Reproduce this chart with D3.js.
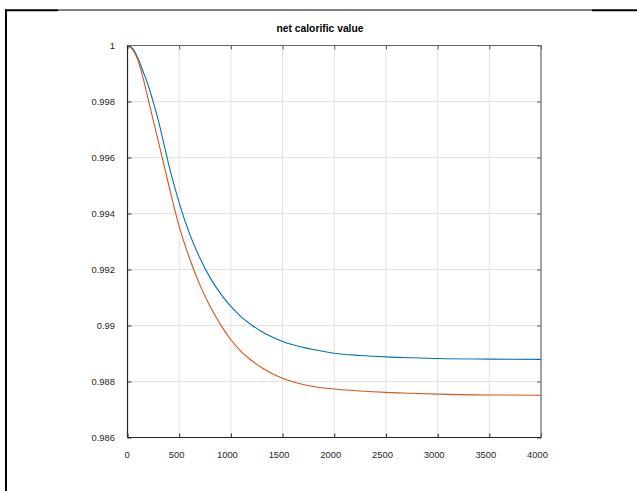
<!DOCTYPE html>
<html>
<head>
<meta charset="utf-8">
<script src="https://cdn.jsdelivr.net/npm/d3@7"></script>
<style>
  html, body { margin: 0; padding: 0; background: #fff; }
  svg { display: block; font-family: "Liberation Sans", Arial, sans-serif; }
</style>
</head>
<body>
<svg id="chart" width="637" height="491"></svg>
<script>
// values
const xValues = [0, 50, 100, 150, 200, 250, 300, 350, 400, 450, 500, 600, 700, 800, 900, 1000,
  1100, 1200, 1300, 1400, 1500, 1600, 1700, 1800, 1900, 2000, 2250, 2500, 2750, 3000, 3500, 4000];
const blueValues = [1.0, 0.99990, 0.99955, 0.99908, 0.99858, 0.99797, 0.99730, 0.99652, 0.99573,
  0.99503, 0.99438, 0.99328, 0.99241, 0.99170, 0.99114, 0.99068, 0.99031, 0.99002, 0.98978,
  0.98959, 0.98943, 0.98931, 0.98922, 0.98914, 0.98907, 0.98901, 0.98893, 0.98888, 0.98885,
  0.98882, 0.98880, 0.98879];
const orangeValues = [1.0, 0.99985, 0.99949, 0.99885, 0.99808, 0.99732, 0.99655, 0.99578, 0.99500,
  0.99424, 0.99354, 0.99240, 0.99145, 0.99068, 0.99003, 0.98949, 0.98907, 0.98875, 0.98849,
  0.98828, 0.98812, 0.98799, 0.98789, 0.98782, 0.98777, 0.98773, 0.98766, 0.98761, 0.98758,
  0.98755, 0.98752, 0.98751];
const xTicks = [0, 500, 1000, 1500, 2000, 2500, 3000, 3500, 4000];
const yTicks = [0.986, 0.988, 0.99, 0.992, 0.994, 0.996, 0.998, 1];
const yTickLabels = ['0.986', '0.988', '0.99', '0.992', '0.994', '0.996', '0.998', '1'];
const title = 'net calorific value';

const svg = d3.select('#chart');

// figure frame (partial border, as in the picture)
const frame = svg.append('g');
frame.append('line').attr('x1', 6).attr('x2', 6).attr('y1', 9.5).attr('y2', 491)
  .attr('stroke', '#000').attr('stroke-width', 2);
frame.append('line').attr('x1', 5).attr('x2', 58).attr('y1', 10.3).attr('y2', 10.3)
  .attr('stroke', '#000').attr('stroke-width', 2);
frame.append('line').attr('x1', 58).attr('x2', 592).attr('y1', 10).attr('y2', 10)
  .attr('stroke', '#000').attr('stroke-width', 1);
frame.append('line').attr('x1', 592).attr('x2', 637).attr('y1', 10.3).attr('y2', 10.3)
  .attr('stroke', '#000').attr('stroke-width', 2);

const m = { left: 127.5, right: 541, top: 45.5, bottom: 437.5 };

const x = d3.scaleLinear().domain([0, 4000]).range([m.left, m.right]);
const y = d3.scaleLinear().domain([0.986, 1]).range([m.bottom, m.top]);

// grid
const grid = svg.append('g').attr('class', 'grid');
grid.selectAll('line.gx')
  .data(xTicks.slice(1, -1))
  .enter()
  .append('line')
  .attr('x1', d => x(d)).attr('x2', d => x(d))
  .attr('y1', m.top).attr('y2', m.bottom)
  .attr('stroke', '#e3e3e3').attr('stroke-width', 1);
grid.selectAll('line.gy')
  .data(yTicks.slice(1, -1))
  .enter()
  .append('line')
  .attr('x1', m.left).attr('x2', m.right)
  .attr('y1', d => y(d)).attr('y2', d => y(d))
  .attr('stroke', '#e3e3e3').attr('stroke-width', 1);

// curves
const line = d3.line()
  .x((d, i) => x(xValues[i]))
  .y(d => y(d))
  .curve(d3.curveMonotoneX);

svg.append('path')
  .datum(blueValues)
  .attr('d', line)
  .attr('fill', 'none')
  .attr('stroke', '#0072BD')
  .attr('stroke-width', 1.1);

svg.append('path')
  .datum(orangeValues)
  .attr('d', line)
  .attr('fill', 'none')
  .attr('stroke', '#D95319')
  .attr('stroke-width', 1.1);

// axes, ticks pointing inward
const styleAxis = (g, col) => {
  g.select('.domain').remove();
  g.selectAll('.tick line').attr('stroke', col);
  g.selectAll('.tick text')
    .attr('fill', '#262626')
    .style('font-size', '9.4px');
};

svg.append('g')
  .attr('transform', `translate(0,${m.bottom})`)
  .call(d3.axisBottom(x).tickValues(xTicks).tickSize(-4).tickPadding(14).tickFormat(d3.format('d')))
  .call(g => styleAxis(g, '#262626'))
  .call(g => g.selectAll('.tick text').attr('dx', d => -String(d).length + 'px'));

svg.append('g')
  .attr('transform', `translate(0,${m.top})`)
  .call(d3.axisTop(x).tickValues(xTicks).tickSize(-4).tickFormat(''))
  .call(g => styleAxis(g, '#555'));

svg.append('g')
  .attr('transform', `translate(${m.left},0)`)
  .call(d3.axisLeft(y).tickValues(yTicks).tickSize(-4).tickPadding(12.5)
    .tickFormat((d, i) => yTickLabels[i]))
  .call(g => styleAxis(g, '#262626'));

svg.append('g')
  .attr('transform', `translate(${m.right},0)`)
  .call(d3.axisRight(y).tickValues(yTicks).tickSize(-4).tickFormat(''))
  .call(g => styleAxis(g, '#555'));

// box
svg.append('line').attr('x1', m.left).attr('x2', m.right).attr('y1', m.top).attr('y2', m.top)
  .attr('stroke', '#666').attr('stroke-width', 1.2);
svg.append('line').attr('x1', m.right).attr('x2', m.right).attr('y1', m.top).attr('y2', m.bottom)
  .attr('stroke', '#666').attr('stroke-width', 1.2);
svg.append('line').attr('x1', m.left).attr('x2', m.right).attr('y1', m.bottom).attr('y2', m.bottom)
  .attr('stroke', '#262626').attr('stroke-width', 1.2);
svg.append('line').attr('x1', m.left).attr('x2', m.left).attr('y1', m.top).attr('y2', m.bottom)
  .attr('stroke', '#262626').attr('stroke-width', 1.2);

// title
svg.append('text')
  .attr('x', 320)
  .attr('y', 31.5)
  .attr('text-anchor', 'middle')
  .attr('font-weight', 'bold')
  .style('font-size', '10.3px')
  .attr('fill', '#000')
  .text(title);
</script>
</body>
</html>
